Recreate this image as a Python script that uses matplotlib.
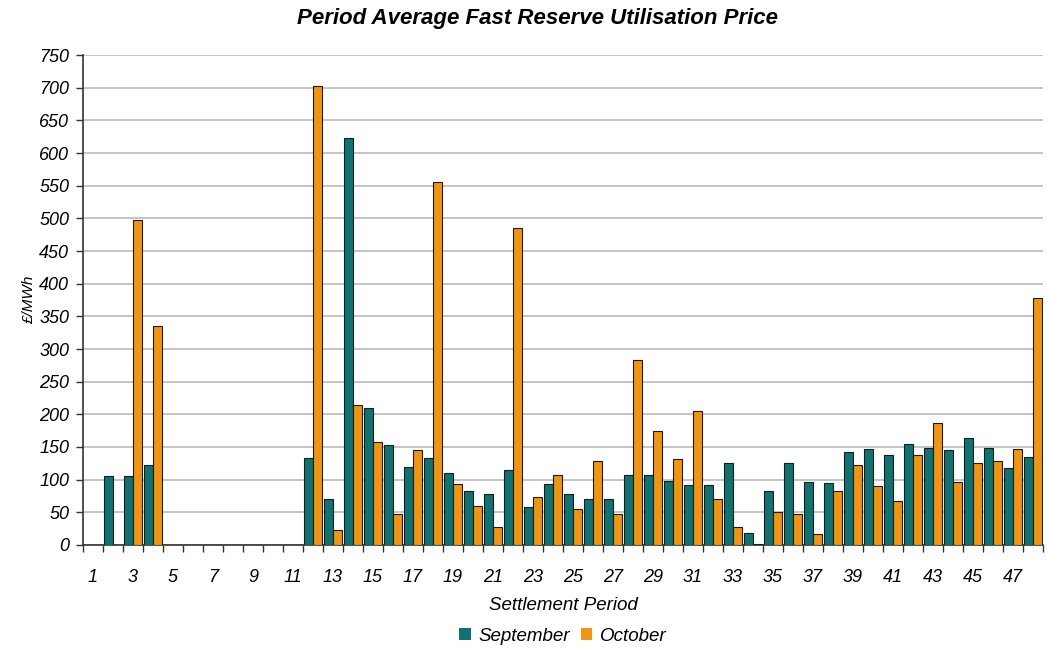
import matplotlib.pyplot as plt
import numpy as np

# settlement periods 1..48
periods = list(range(1, 49))

september = [0, 105, 105, 123, 0, 0, 0, 0, 0, 0, 0, 133,
             70, 623, 210, 153, 120, 133, 110, 82, 78, 115, 58, 93,
             78, 70, 70, 107, 107, 98, 92, 92, 125, 18, 82, 125,
             97, 95, 143, 147, 137, 155, 148, 145, 163, 148, 118, 134]

october = [0, 0, 498, 335, 0, 0, 0, 0, 0, 0, 0, 703,
           23, 215, 157, 48, 145, 555, 93, 60, 27, 485, 73, 107,
           55, 128, 47, 283, 175, 132, 205, 70, 27, 1, 50, 48,
           17, 82, 122, 90, 68, 138, 187, 97, 125, 128, 147, 378]

y_ticks = list(range(0, 751, 50))
x_labels = [str(p) for p in periods[::2]]

plt.rcParams['font.family'] = ['Liberation Sans', 'DejaVu Sans']

fig = plt.figure(figsize=(10.47, 6.48), dpi=100)
ax = fig.add_axes([0.0793, 0.159, 0.9167, 0.756])

x = np.arange(len(periods))
w = 0.45
# no outline on empty periods
sep_edges = ['#1a1a1a' if v > 0 else 'none' for v in september]
oct_edges = ['#1a1a1a' if v > 0 else 'none' for v in october]
ax.bar(x - w / 2, september, w, color='#0f7471', edgecolor=sep_edges,
       linewidth=0.8, label='September', zorder=3)
ax.bar(x + w / 2, october, w, color='#ef9510', edgecolor=oct_edges,
       linewidth=0.8, label='October', zorder=3)

ax.set_xlim(-0.5, len(periods) - 0.5)
ax.set_ylim(0, 750)
ax.set_yticks(y_ticks)
ax.set_yticklabels([str(v) for v in y_ticks], fontsize=13, style='italic')
ax.set_xticks(x[::2])
ax.set_xticklabels(x_labels, fontsize=13, style='italic')
ax.set_xticks(np.arange(-0.5, len(periods)), minor=True)
ax.tick_params(axis='x', which='major', length=0, pad=17)
ax.tick_params(axis='x', which='minor', length=5, width=1, color='#333333')
ax.tick_params(axis='y', length=5, width=1, color='#333333', pad=5)

ax.grid(axis='y', color='#bbbbbb', linewidth=1.2, zorder=0)
ax.spines['top'].set_visible(False)
ax.spines['right'].set_visible(False)
ax.spines['left'].set_color('#333333')
ax.spines['bottom'].set_color('#333333')
ax.spines['left'].set_linewidth(1.2)
ax.spines['bottom'].set_linewidth(1.2)

fig.suptitle("Period Average Fast Reserve Utilisation Price", x=0.513,
             y=0.972, va='center', fontsize=16, fontweight='bold',
             style='italic')
ax.set_xlabel("Settlement Period", fontsize=13.5, style='italic', labelpad=8)
ax.set_ylabel("£/MWh", fontsize=11, style='italic', labelpad=2)

ax.legend(loc='upper center', bbox_to_anchor=(0.5, -0.135), ncol=2,
          frameon=False, prop={'style': 'italic', 'size': 13.5},
          handlelength=0.6, handleheight=0.6, handletextpad=0.4,
          columnspacing=0.6)

fig.savefig("out.png", dpi=100)
